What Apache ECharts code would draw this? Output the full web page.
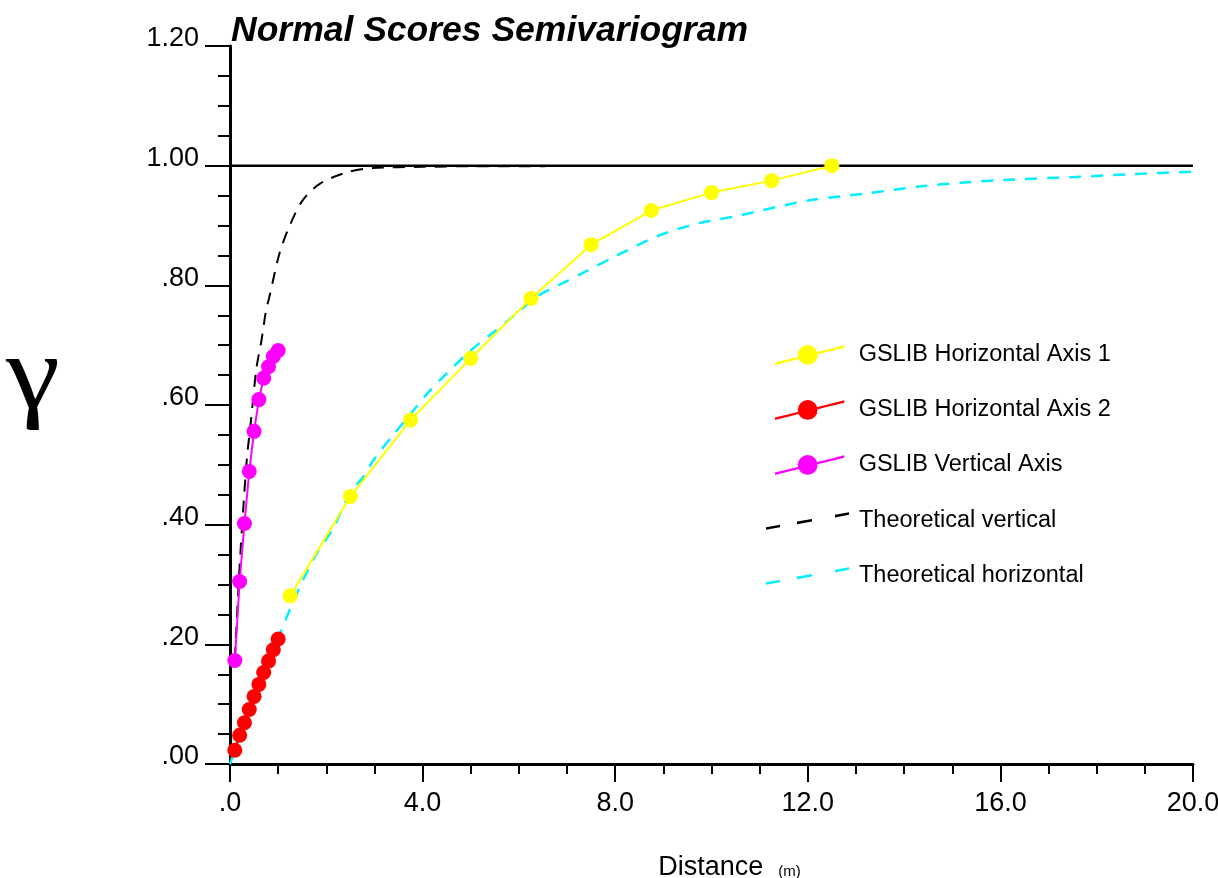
<!DOCTYPE html>
<html>
<head>
<meta charset="utf-8">
<script src="https://cdn.jsdelivr.net/npm/echarts@6/dist/echarts.min.js"></script>
<style>
html,body{margin:0;padding:0;background:#fff;}
#chart{width:1218px;height:878px;}
</style>
</head>
<body>
<div id="chart"></div>
<script>
// ---- data ----
var lagH1 = [1.25, 2.5, 3.75, 5.0, 6.25, 7.5, 8.75, 10.0, 11.25, 12.5];
var gammaH1 = [0.281, 0.447, 0.575, 0.678, 0.778, 0.868, 0.925, 0.955, 0.975, 1.0];

var lagShort = [0.1, 0.2, 0.3, 0.4, 0.5, 0.6, 0.7, 0.8, 0.9, 1.0];
var gammaH2 = [0.023, 0.048, 0.069, 0.091, 0.113, 0.133, 0.153, 0.172, 0.191, 0.209];
var gammaV = [0.173, 0.305, 0.402, 0.489, 0.556, 0.609, 0.645, 0.664, 0.681, 0.691];

var theoVertX = [0.1, 0.2, 0.27, 0.35, 0.43, 0.55, 0.65, 0.75, 0.81, 1.02, 1.2, 1.49, 1.87, 2.48, 2.96, 4.0, 5.0, 6.55];
var theoVertY = [0.175, 0.33, 0.42, 0.51, 0.57, 0.662, 0.706, 0.759, 0.778, 0.851, 0.892, 0.94, 0.97, 0.99, 0.996, 0.998, 0.999, 0.999];

var theoHorX = [0, 0.5, 1.04, 1.18, 1.52, 1.8, 2.15, 2.49, 2.77, 2.98, 3.39, 3.74, 4.15, 4.5, 4.98, 5.4, 5.88, 6.37, 6.92, 7.38, 7.99, 8.87, 9.74, 10.53, 11.41, 12.11, 13.25, 14.3, 15.26, 16.31, 17.54, 18.77, 20];
var theoHorY = [0, 0.11, 0.218, 0.246, 0.308, 0.352, 0.395, 0.453, 0.48, 0.508, 0.55, 0.584, 0.624, 0.653, 0.69, 0.717, 0.748, 0.781, 0.804, 0.823, 0.848, 0.882, 0.904, 0.916, 0.932, 0.943, 0.954, 0.965, 0.972, 0.977, 0.981, 0.986, 0.99];

var sillX = [0, 20];
var sillY = [1.0, 1.0];

var seriesNames = ['GSLIB Horizontal Axis 1', 'GSLIB Horizontal Axis 2', 'GSLIB Vertical Axis', 'Theoretical vertical', 'Theoretical horizontal'];
var titleText = 'Normal Scores Semivariogram';
var xName = 'Distance';
var xUnit = '(m)';
var yName = 'γ';

function pairs(xs, ys) { return xs.map(function (x, i) { return [x, ys[i]]; }); }

var iconLine = 'path://M0 18.3 L24 12.3 L24 14.7 L0 20.7 Z M42 7.8 L70 0.8 L70 3.2 L42 10.2 Z M23 10.5 A10 10 0 1 1 43 10.5 A10 10 0 1 1 23 10.5 Z';
var iconDash = 'path://M0 14.7 L14 12.2 L14 14.8 L0 17.3 Z M31 9.15 L46 6.47 L46 9.07 L31 11.75 Z M69 2.35 L83 -0.16 L83 2.44 L69 4.95 Z';

var FONT = 'Liberation Sans';
var chart = echarts.init(document.getElementById('chart'), null, {renderer: 'canvas'});
var legendText = {fontSize: 23.5, fontFamily: FONT, color: '#000', lineHeight: 20};

chart.setOption({
  animation: false,
  backgroundColor: '#fff',
  title: {
    text: titleText, left: 231, top: 13, padding: 0,
    textStyle: {fontSize: 35.5, fontWeight: 'bold', fontStyle: 'italic', fontFamily: FONT, color: '#000'}
  },
  grid: {left: 230, right: 25, top: 46, bottom: 114, containLabel: false, outerBoundsMode: 'none'},
  legend: [
    {
      orient: 'vertical', left: 775, top: 343, padding: 0, itemGap: 31,
      itemWidth: 70, itemHeight: 20, selectedMode: false,
      itemStyle: {borderWidth: 0},
      textStyle: Object.assign({padding: [0, 0, 0, 9]}, legendText),
      data: seriesNames.slice(0, 3).map(function (n) { return {name: n, icon: iconLine}; })
    },
    {
      orient: 'vertical', left: 766, top: 509, padding: 0, itemGap: 31,
      itemWidth: 83, itemHeight: 17.5, selectedMode: false,
      itemStyle: {borderWidth: 0},
      textStyle: Object.assign({padding: [0, 0, 0, 5]}, legendText),
      data: seriesNames.slice(3).map(function (n) { return {name: n, icon: iconDash}; })
    }
  ],
  xAxis: {
    type: 'value', min: 0, max: 20, interval: 4,
    name: '{a|' + xName + '}{b|' + xUnit + '}',
    nameLocation: 'middle', nameGap: 90,
    nameTextStyle: {
      padding: [0, 0, 0, 36],
      rich: {
        a: {fontSize: 27, fontFamily: FONT, color: '#000'},
        b: {fontSize: 15, fontFamily: FONT, color: '#000', padding: [9, 0, 0, 15]}
      }
    },
    axisLine: {show: true, onZero: false, lineStyle: {color: '#000', width: 3}},
    axisTick: {show: true, length: 18, lineStyle: {color: '#000', width: 2}},
    minorTick: {show: true, splitNumber: 4, length: 10, lineStyle: {color: '#000', width: 2}},
    splitLine: {show: false},
    axisLabel: {
      margin: 26, fontSize: 27, fontFamily: FONT, color: '#000',
      formatter: function (v) { return v.toFixed(1).replace(/^0/, ''); }
    }
  },
  yAxis: {
    type: 'value', min: 0, max: 1.2, interval: 0.2,
    axisLine: {show: true, onZero: false, lineStyle: {color: '#000', width: 3}},
    axisTick: {show: true, length: 25, lineStyle: {color: '#000', width: 2}},
    minorTick: {show: true, splitNumber: 4, length: 12, lineStyle: {color: '#000', width: 2}},
    splitLine: {show: false},
    axisLabel: {
      margin: 31, fontSize: 27, fontFamily: FONT, color: '#000',
      verticalAlign: 'bottom', lineHeight: 14,
      formatter: function (v) { return v.toFixed(2).replace(/^0/, ''); }
    }
  },
  graphic: [
    {
      type: 'text', left: 6, top: 326, scaleX: 1.15,
      style: {text: yName, fontSize: 106, fontFamily: 'Liberation Serif', fill: '#000'}
    }
  ],
  series: [
    {
      name: 'sill', type: 'line', data: pairs(sillX, sillY), showSymbol: false, symbol: 'none',
      lineStyle: {color: '#000', width: 2.5}, itemStyle: {color: '#000'}, silent: true, z: 1
    },
    {
      name: seriesNames[3], type: 'line', data: pairs(theoVertX, theoVertY), showSymbol: false, symbol: 'none',
      smooth: 0.3, lineStyle: {color: '#000', width: 2, type: [12, 9]}, itemStyle: {color: '#000'}, z: 2
    },
    {
      name: seriesNames[4], type: 'line', data: pairs(theoHorX, theoHorY), showSymbol: false, symbol: 'none',
      smooth: 0.3, lineStyle: {color: '#00f0ff', width: 2.5, type: [12, 10]}, itemStyle: {color: '#00f0ff'}, z: 2
    },
    {
      name: seriesNames[0], type: 'line', data: pairs(lagH1, gammaH1), symbol: 'circle', symbolSize: 15,
      lineStyle: {color: '#ffff00', width: 2}, itemStyle: {color: '#ffff00'}, z: 3
    },
    {
      name: seriesNames[1], type: 'line', data: pairs(lagShort, gammaH2), symbol: 'circle', symbolSize: 15,
      lineStyle: {color: '#ff0000', width: 2}, itemStyle: {color: '#ff0000'}, z: 3
    },
    {
      name: seriesNames[2], type: 'line', data: pairs(lagShort, gammaV), symbol: 'circle', symbolSize: 15,
      lineStyle: {color: '#ff00ff', width: 2}, itemStyle: {color: '#ff00ff'}, z: 4
    }
  ]
});
</script>
</body>
</html>
